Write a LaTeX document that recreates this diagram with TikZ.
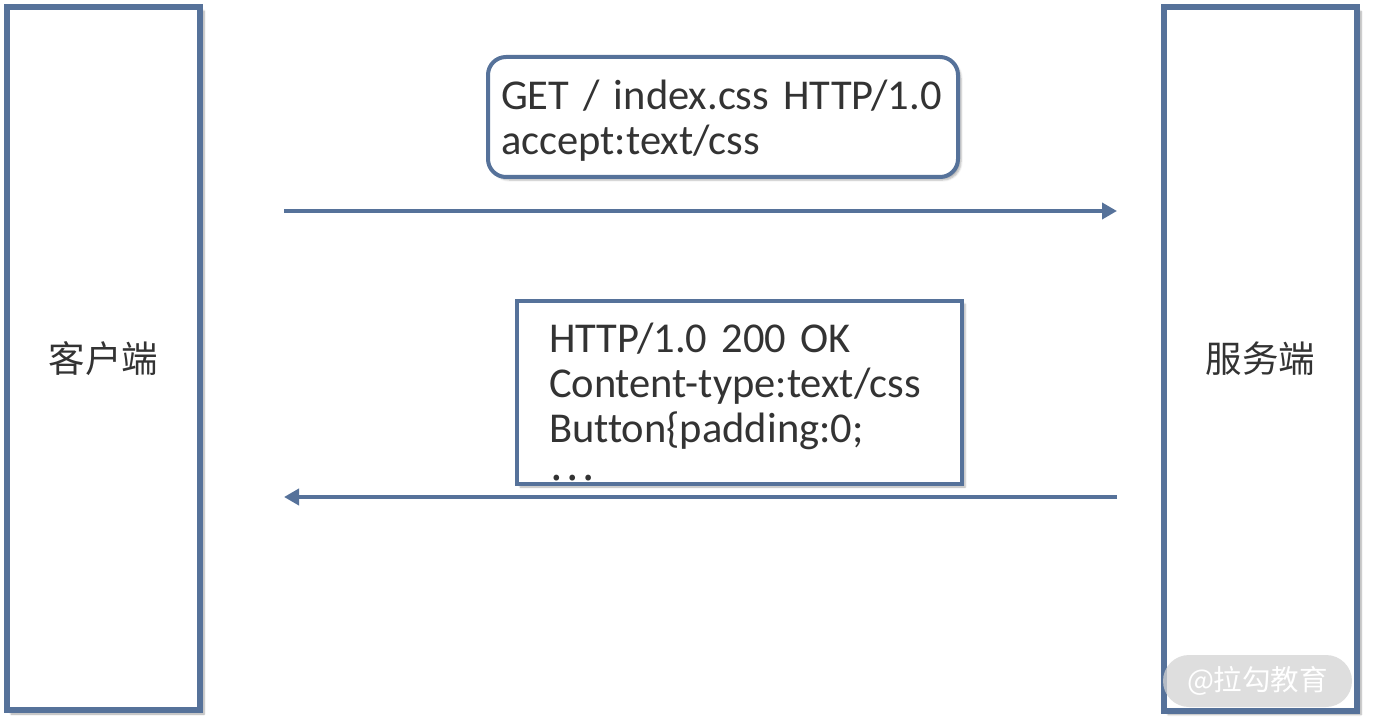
\documentclass[tikz,border=0pt]{standalone}
\usepackage{fontspec}
\setmainfont{Carlito}[Ligatures=NoCommon]
\newfontfamily\cjk{Noto Sans CJK SC}
\usetikzlibrary{arrows.meta,positioning,shadows.blur}
\definecolor{LagouBlue}{HTML}{56729A}
\definecolor{LagouInk}{HTML}{333333}
\definecolor{LagouMark}{HTML}{D4D4D4}

\begin{document}
\begin{tikzpicture}[
    x=1pt, y=-1pt,
    lane/.style={
        draw=LagouBlue,
        line width=6pt,
        fill=white,
        minimum width=193pt,
        minimum height=703pt,
        text=LagouInk,
        font=\cjk\fontsize{36.5}{40}\selectfont,
        blur shadow={shadow xshift=4pt, shadow yshift=-4pt, shadow opacity=35, shadow blur steps=6}
    },
    message/.style={
        draw=LagouBlue,
        line width=4pt,
        fill=white,
        align=left,
        inner ysep=0pt,
        text=LagouInk,
        font=\fontsize{42.5}{44.5}\selectfont,
        blur shadow={shadow xshift=3pt, shadow yshift=-3pt, shadow opacity=30, shadow blur steps=5}
    },
    call/.style={
        -{Triangle[length=15pt,width=16pt]},
        line width=4pt,
        draw=LagouBlue
    },
    watermark/.style={
        fill=LagouMark,
        fill opacity=0.75,
        text opacity=1,
        text=white,
        rounded corners=26pt,
        minimum width=189pt,
        minimum height=52pt,
        font=\cjk\fontsize{28.5}{30}\selectfont
    }
]
    \useasboundingbox (0,0) rectangle (1373,727);

    \node[lane] (client) at (103.5,358.5) {客户端};
    \node[lane] (server) at (1260.5,359) {服务端};

    \node[message, rounded corners=18pt, minimum height=120pt,
          inner xsep=13pt, text width=444pt, text depth=44pt] (req) at (723,117)
        {GET / index.css HTTP/1.0\\accept:text/css};
    \node[message, minimum height=183pt, font=\fontsize{42.5}{45}\selectfont,
          inner xsep=32pt, text width=381pt, text depth=110pt] (resp) at (739.5,392.5)
        {HTTP/1.0 200 OK\\Content-type:text/css\\Button\{padding:0;\\\raisebox{7pt}{\cjk …}};

    % request and response
    \draw[call] (client.east |- 0,211) ++(81,0) -- ([xshift=-44pt]server.west |- 0,211);
    \draw[call] ([xshift=-44pt]server.west |- 0,497) -- ++(-833,0);

    \node[watermark] (mark) at (1257.5,681) {@拉勾教育};
\end{tikzpicture}
\end{document}
